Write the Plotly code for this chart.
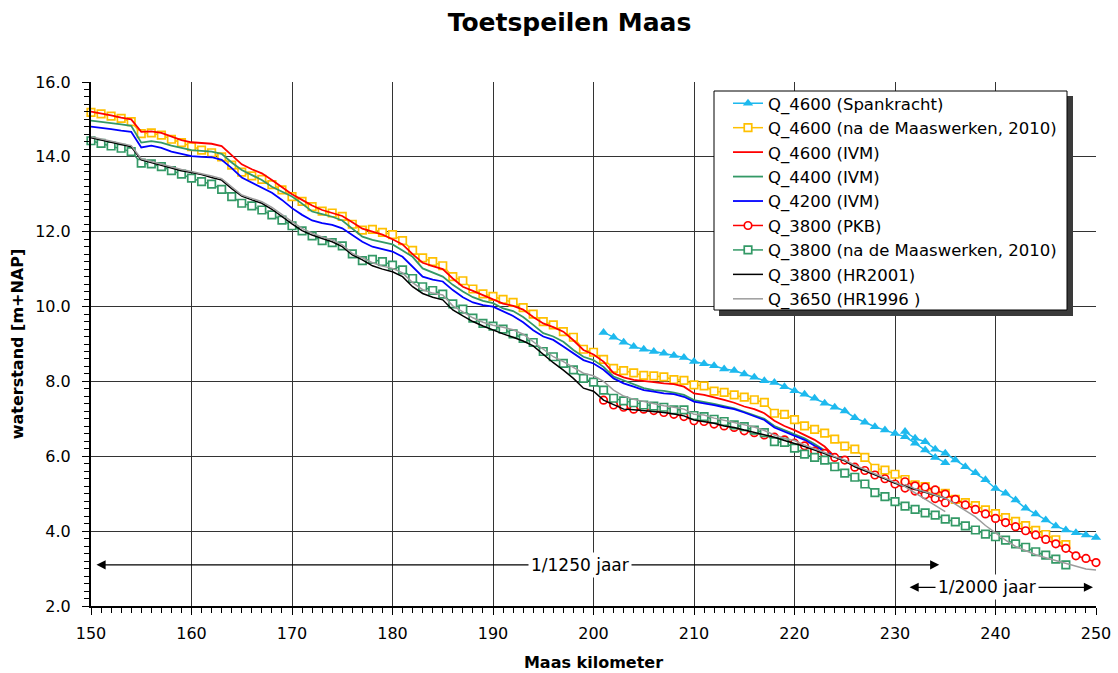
import plotly.graph_objects as go

# ---------------- data (Maas kilometer / waterstand m+NAP) ----------------
KM_IVM = list(range(150, 226))
Q4600_IVM = [15.21, 15.17, 15.11, 15.05, 15.00, 14.67, 14.68, 14.64, 14.54, 14.45,
             14.39, 14.37, 14.35, 14.29, 14.05, 13.80, 13.67, 13.56, 13.38, 13.20,
             13.00, 12.85, 12.70, 12.58, 12.50, 12.42, 12.25, 12.08, 12.00, 11.92,
             11.80, 11.66, 11.40, 11.17, 11.08, 11.00, 10.75, 10.53, 10.42, 10.31,
             10.20, 10.08, 10.02, 9.92, 9.72, 9.55, 9.45, 9.33, 9.10, 8.84,
             8.72, 8.53, 8.22, 8.11, 8.04, 8.00, 7.98, 7.95, 7.93, 7.86,
             7.68, 7.64, 7.58, 7.51, 7.43, 7.33, 7.26, 7.15, 6.95, 6.81,
             6.70, 6.57, 6.44, 6.26, 5.99, 5.90]
Q4400_IVM = [14.97, 14.94, 14.90, 14.87, 14.83, 14.38, 14.42, 14.38, 14.30, 14.23,
             14.18, 14.16, 14.14, 14.08, 13.85, 13.65, 13.52, 13.38, 13.20, 13.06,
             12.94, 12.75, 12.54, 12.47, 12.40, 12.30, 12.08, 11.87, 11.78, 11.72,
             11.66, 11.50, 11.33, 11.02, 10.90, 10.80, 10.58, 10.40, 10.25, 10.15,
             10.09, 9.95, 9.88, 9.72, 9.51, 9.29, 9.20, 9.06, 8.84, 8.66,
             8.57, 8.39, 8.13, 8.02, 7.93, 7.82, 7.77, 7.75, 7.70, 7.64,
             7.50, 7.46, 7.40, 7.34, 7.28, 7.19, 7.10, 7.00, 6.81, 6.70,
             6.61, 6.48, 6.33, 6.17, 5.99, 5.90]
Q4200_IVM = [14.81, 14.78, 14.74, 14.70, 14.67, 14.25, 14.30, 14.24, 14.14, 14.08,
             14.02, 14.00, 13.99, 13.92, 13.70, 13.45, 13.32, 13.19, 13.04, 12.85,
             12.63, 12.45, 12.30, 12.23, 12.18, 12.09, 11.90, 11.73, 11.60, 11.53,
             11.47, 11.33, 11.07, 10.80, 10.72, 10.67, 10.44, 10.25, 10.11, 10.04,
             10.00, 9.88, 9.75, 9.58, 9.37, 9.20, 9.11, 8.93, 8.75, 8.57,
             8.48, 8.31, 8.08, 7.95, 7.86, 7.77, 7.73, 7.68, 7.66, 7.59,
             7.46, 7.42, 7.37, 7.31, 7.26, 7.17, 7.08, 6.97, 6.77, 6.66,
             6.57, 6.44, 6.28, 6.13, 5.99, 5.90]

KM_MW = list(range(150, 248))
Q4600_MW = [15.19, 15.15, 15.09, 15.03, 14.94, 14.62, 14.64, 14.58, 14.47, 14.38,
            14.27, 14.18, 14.11, 14.00, 13.78, 13.59, 13.49, 13.40, 13.26, 13.12,
            12.94, 12.81, 12.67, 12.55, 12.50, 12.41, 12.20, 12.04, 12.06, 11.98,
            11.92, 11.76, 11.50, 11.30, 11.20, 11.09, 10.80, 10.69, 10.47, 10.34,
            10.27, 10.19, 10.11, 9.97, 9.80, 9.60, 9.51, 9.33, 9.18, 8.86,
            8.78, 8.59, 8.35, 8.29, 8.23, 8.16, 8.15, 8.12, 8.05, 8.03,
            7.91, 7.88, 7.74, 7.71, 7.64, 7.58, 7.51, 7.44, 7.15, 7.12,
            6.98, 6.81, 6.72, 6.62, 6.46, 6.27, 6.19, 5.97, 5.68, 5.63,
            5.52, 5.38, 5.24, 5.19, 5.06, 5.01, 4.85, 4.76, 4.68, 4.57,
            4.47, 4.36, 4.26, 4.15, 4.02, 3.91, 3.77, 3.64]
Q3800_MW = [14.43, 14.36, 14.29, 14.23, 14.14, 13.83, 13.81, 13.74, 13.63, 13.54,
            13.43, 13.34, 13.27, 13.13, 12.94, 12.76, 12.69, 12.58, 12.45, 12.31,
            12.16, 12.02, 11.89, 11.76, 11.71, 11.62, 11.41, 11.23, 11.26, 11.20,
            11.11, 10.98, 10.75, 10.53, 10.43, 10.33, 10.07, 9.93, 9.69, 9.55,
            9.48, 9.40, 9.27, 9.15, 9.04, 8.80, 8.66, 8.48, 8.31, 8.08,
            7.98, 7.77, 7.55, 7.48, 7.43, 7.37, 7.34, 7.31, 7.24, 7.24,
            7.09, 7.06, 6.99, 6.93, 6.84, 6.79, 6.70, 6.63, 6.39, 6.37,
            6.22, 6.06, 5.97, 5.90, 5.72, 5.55, 5.44, 5.26, 5.03, 4.92,
            4.79, 4.67, 4.58, 4.49, 4.43, 4.32, 4.25, 4.14, 4.03, 3.92,
            3.85, 3.76, 3.66, 3.57, 3.45, 3.36, 3.25, 3.10]

KM_HR2001 = list(range(150, 236))
Q3800_HR2001 = [14.51, 14.45, 14.39, 14.33, 14.27, 13.92, 13.85, 13.77, 13.69, 13.63,
                13.58, 13.53, 13.45, 13.38, 13.15, 12.95, 12.85, 12.76, 12.60, 12.40,
                12.21, 12.03, 11.91, 11.82, 11.73, 11.60, 11.38, 11.25, 11.09, 11.00,
                10.93, 10.80, 10.53, 10.35, 10.25, 10.18, 9.91, 9.75, 9.60, 9.48,
                9.37, 9.27, 9.18, 9.08, 8.95, 8.72, 8.50, 8.30, 8.08, 7.82,
                7.74, 7.50, 7.37, 7.26, 7.24, 7.22, 7.19, 7.17, 7.13, 7.08,
                6.97, 6.93, 6.88, 6.81, 6.77, 6.70, 6.64, 6.57, 6.51, 6.42,
                6.35, 6.26, 6.17, 6.08, 5.99, 5.88, 5.72, 5.62, 5.50, 5.40,
                5.28, 5.20, 5.12, 5.04, 4.95, 4.88]

KM_HR1996_A = list(range(150, 236))
Q3650_HR1996_A = [14.54, 14.48, 14.42, 14.36, 14.30, 13.95, 13.88, 13.80, 13.72, 13.66,
                  13.61, 13.56, 13.49, 13.42, 13.19, 12.98, 12.89, 12.80, 12.65, 12.45,
                  12.27, 12.09, 11.96, 11.86, 11.78, 11.65, 11.42, 11.30, 11.17, 11.08,
                  11.02, 10.90, 10.64, 10.45, 10.36, 10.31, 10.02, 9.86, 9.70, 9.58,
                  9.50, 9.45, 9.38, 9.26, 9.06, 8.84, 8.66, 8.53, 8.38, 8.22,
                  8.15, 8.00, 7.77, 7.61, 7.52, 7.46, 7.42, 7.35, 7.31, 7.26,
                  7.12, 7.10, 7.02, 6.97, 6.90, 6.84, 6.78, 6.69, 6.57, 6.48,
                  6.42, 6.30, 6.21, 6.10, 5.99, 5.90, 5.76, 5.65, 5.53, 5.42,
                  5.30, 5.19, 5.02, 4.85, 4.68, 4.52]
KM_HR1996_B = list(range(231, 251))
Q3650_HR1996_B = [5.25, 5.13, 5.05, 4.97, 4.88, 4.72, 4.55, 4.38, 4.15, 3.95,
                  3.76, 3.59, 3.47, 3.37, 3.29, 3.21, 3.13, 3.05, 2.99, 2.96]

KM_1250 = list(range(201, 236))
KM_2000 = list(range(231, 251))
SPAN_1250 = [9.31, 9.18, 9.05, 8.93, 8.86, 8.80, 8.75, 8.69, 8.64, 8.53,
             8.47, 8.42, 8.33, 8.29, 8.20, 8.11, 8.02, 7.97, 7.86, 7.75,
             7.66, 7.55, 7.42, 7.31, 7.21, 7.03, 6.91, 6.79, 6.70, 6.61,
             6.52, 6.35, 6.17, 5.97, 5.83]
SPAN_2000 = [6.66, 6.48, 6.39, 6.19, 6.08, 5.90, 5.72, 5.56, 5.37, 5.14,
             5.01, 4.83, 4.61, 4.46, 4.30, 4.14, 4.03, 3.96, 3.90, 3.83]
PKB_1250 = [7.50, 7.37, 7.31, 7.26, 7.26, 7.22, 7.17, 7.12, 7.06, 6.95,
            6.93, 6.86, 6.81, 6.77, 6.68, 6.63, 6.57, 6.51, 6.44, 6.35,
            6.28, 6.14, 6.08, 5.97, 5.90, 5.71, 5.62, 5.50, 5.40, 5.26,
            5.15, 5.07, 4.97, 4.87, 4.76]
PKB_2000 = [5.32, 5.21, 5.18, 5.10, 4.99, 4.85, 4.70, 4.58, 4.46, 4.34,
            4.23, 4.12, 4.01, 3.90, 3.78, 3.66, 3.54, 3.34, 3.27, 3.16]

X_TICKS = list(range(150, 251, 10))
Y_TICKS = [2, 4, 6, 8, 10, 12, 14, 16]
Y_TICKTEXT = ["2.0", "4.0", "6.0", "8.0", "10.0", "12.0", "14.0", "16.0"]


def joined(xa, ya, xb, yb):
    return list(xa) + [None] + list(xb), list(ya) + [None] + list(yb)


FONT = "DejaVu Sans, Verdana, sans-serif"
CYAN = "#1DB9EE"
YELLOW = "#FFC000"
SEAGREEN = "#339966"
GRAY = "#9C9C9C"

fig = go.Figure()

x, y = joined(KM_1250, SPAN_1250, KM_2000, SPAN_2000)
fig.add_trace(go.Scatter(x=x, y=y, name="Q_4600 (Spankracht)", mode="lines+markers",
                         line=dict(color=CYAN, width=1.5),
                         marker=dict(symbol="triangle-up", size=9, color=CYAN),
                         cliponaxis=False))
fig.add_trace(go.Scatter(x=KM_MW, y=Q4600_MW, name="Q_4600 (na de Maaswerken, 2010)",
                         mode="lines+markers", line=dict(color=YELLOW, width=1.5),
                         marker=dict(symbol="square", size=7.5, color="white",
                                     line=dict(color=YELLOW, width=1.7)),
                         cliponaxis=False))
fig.add_trace(go.Scatter(x=KM_IVM, y=Q4600_IVM, name="Q_4600 (IVM)", mode="lines",
                         line=dict(color="#FF0000", width=1.8)))
fig.add_trace(go.Scatter(x=KM_IVM, y=Q4400_IVM, name="Q_4400 (IVM)", mode="lines",
                         line=dict(color=SEAGREEN, width=1.8)))
fig.add_trace(go.Scatter(x=KM_IVM, y=Q4200_IVM, name="Q_4200 (IVM)", mode="lines",
                         line=dict(color="#0000FF", width=1.8)))
x, y = joined(KM_1250, PKB_1250, KM_2000, PKB_2000)
fig.add_trace(go.Scatter(x=x, y=y, name="Q_3800 (PKB)", mode="lines+markers",
                         line=dict(color="#FF0000", width=1.5),
                         marker=dict(symbol="circle", size=7.5, color="white",
                                     line=dict(color="#FF0000", width=1.7)),
                         cliponaxis=False))
fig.add_trace(go.Scatter(x=KM_MW, y=Q3800_MW, name="Q_3800 (na de Maaswerken, 2010)",
                         mode="lines+markers", line=dict(color=SEAGREEN, width=1.5),
                         marker=dict(symbol="square", size=7.5, color="white",
                                     line=dict(color=SEAGREEN, width=1.7)),
                         cliponaxis=False))
fig.add_trace(go.Scatter(x=KM_HR2001, y=Q3800_HR2001, name="Q_3800 (HR2001)", mode="lines",
                         line=dict(color="#000000", width=1.5)))
x, y = joined(KM_HR1996_A, Q3650_HR1996_A, KM_HR1996_B, Q3650_HR1996_B)
fig.add_trace(go.Scatter(x=x, y=y, name="Q_3650 (HR1996 )", mode="lines",
                         line=dict(color=GRAY, width=1.5)))

# plot area in pixels: x 91..1096, y 82..606
L, R, T, B = 91, 1096, 82, 606


def px_x(p):
    return (p - L) / (R - L)


def px_y(p):
    return (B - p) / (B - T)


shapes = [
    dict(type="rect", xref="paper", yref="paper", layer="above",
         x0=px_x(719), x1=px_x(1073), y0=px_y(316), y1=px_y(96),
         fillcolor="#3a3a3a", line=dict(width=0)),
    dict(type="rect", xref="paper", yref="paper", layer="above",
         x0=px_x(714), x1=px_x(1067), y0=px_y(310), y1=px_y(91),
         fillcolor="white", line=dict(color="black", width=1)),
]

annotations = [
    dict(x=234.4, y=3.1, ax=150.4, ay=3.1, xref="x", yref="y", axref="x", ayref="y",
         text="", showarrow=True, arrowhead=2, startarrowhead=2, arrowside="end+start",
         arrowsize=1.4, startarrowsize=1.4, arrowwidth=1.3, arrowcolor="black"),
    dict(x=198.7, y=3.1, xref="x", yref="y", text="1/1250 jaar", showarrow=False,
         bgcolor="white", borderpad=2, font=dict(family=FONT, size=17, color="black")),
    dict(x=249.7, y=2.5, ax=231.3, ay=2.5, xref="x", yref="y", axref="x", ayref="y",
         text="", showarrow=True, arrowhead=2, startarrowhead=2, arrowside="end+start",
         arrowsize=1.4, startarrowsize=1.4, arrowwidth=1.3, arrowcolor="black"),
    dict(x=239.2, y=2.5, xref="x", yref="y", text="1/2000 jaar", showarrow=False,
         bgcolor="white", borderpad=2, font=dict(family=FONT, size=17, color="black")),
]

fig.update_layout(
    width=1118, height=673,
    margin=dict(l=L, r=1118 - R, t=T, b=673 - B, autoexpand=False),
    paper_bgcolor="white", plot_bgcolor="white",
    font=dict(family=FONT, color="black", size=16),
    title=dict(text="<b>Toetspeilen Maas</b>", x=569.5 / 1118, xref="container",
               xanchor="center", y=1 - 22 / 673, yanchor="middle",
               font=dict(family=FONT, size=25, color="black")),
    xaxis=dict(range=[150, 250], tickvals=X_TICKS, showgrid=True, automargin=False,
               gridcolor="#333333", gridwidth=1, showline=True, linecolor="black",
               linewidth=2, ticks="outside", ticklen=7, tickcolor="black",
               tickfont=dict(family=FONT, size=16), ticklabelstandoff=5,
               minor=dict(dtick=1, ticks="outside", ticklen=5, tickcolor="black",
                          showgrid=False),
               title=dict(text="<b>Maas kilometer</b>", standoff=15,
                          font=dict(family=FONT, size=16)),
               zeroline=False),
    yaxis=dict(range=[2, 16], tickvals=Y_TICKS, ticktext=Y_TICKTEXT, showgrid=True,
               automargin=False,
               gridcolor="#333333", gridwidth=1, showline=True, linecolor="black",
               linewidth=2, ticks="outside", ticklen=7, tickcolor="black",
               tickfont=dict(family=FONT, size=16), ticklabelstandoff=8,
               minor=dict(dtick=0.2, ticks="outside", ticklen=5, tickcolor="black",
                          showgrid=False),
               title=dict(text="<b>waterstand [m+NAP]</b>", standoff=8,
                          font=dict(family=FONT, size=16)),
               zeroline=False),
    legend=dict(x=px_x(728), y=px_y(86), xanchor="left", yanchor="top",
                bgcolor="rgba(0,0,0,0)", borderwidth=0,
                font=dict(family=FONT, size=16.5, color="black"),
                traceorder="normal"),
    shapes=shapes,
    annotations=annotations,
)

fig.write_html("out.html")
